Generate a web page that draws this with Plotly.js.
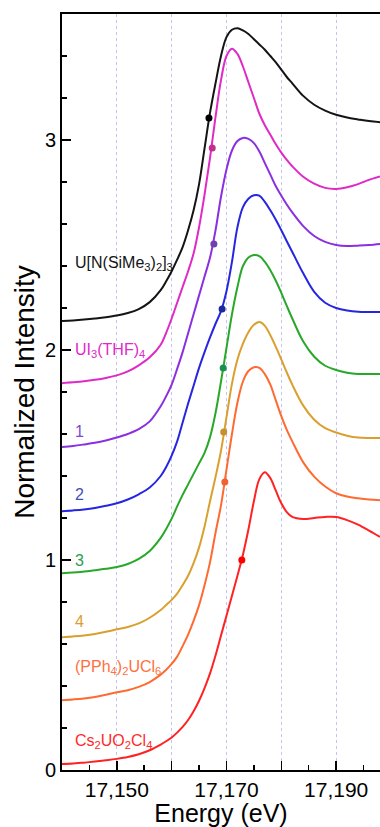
<!DOCTYPE html>
<html>
<head>
<meta charset="utf-8">
<script src="https://cdn.plot.ly/plotly-3.0.1.min.js"></script>
<style>html,body{margin:0;padding:0;background:#fff;}#chart{width:380px;height:827px;}</style>
</head>
<body>
<div id="chart"></div>
<script>
// Energy grid (eV)
const energy = [17140,17142,17144,17146,17148,17150,17152,17154,17156,17158,
  17159,17160,17161,17162,17163,17164,17165,17166,17167,17168,17169,17170,17171,17172,
  17173,17174,17175,17176,17177,17178,17179,17180,17181,17182,
  17184,17186,17188,17190,17192,17194,17196,17198];

// Normalized intensity (with vertical offsets as plotted)
const uNSiMe3 = [2.138,2.141,2.145,2.150,2.156,2.164,2.176,2.195,2.228,2.285,
  2.327,2.375,2.43,2.49,2.57,2.665,2.79,2.96,3.13,3.27,3.40,3.49,3.525,3.532,
  3.522,3.505,3.48,3.455,3.43,3.40,3.37,3.335,3.30,3.27,
  3.21,3.168,3.14,3.12,3.107,3.098,3.09,3.085];
const ui3THF4 = [1.842,1.846,1.851,1.858,1.867,1.879,1.898,1.927,1.965,2.025,
  2.082,2.15,2.225,2.30,2.375,2.46,2.585,2.74,2.915,3.11,3.285,3.40,3.435,3.41,
  3.35,3.275,3.20,3.125,3.07,3.025,2.98,2.94,2.905,2.875,
  2.825,2.792,2.772,2.767,2.775,2.79,2.81,2.826];
const cmpd1 = [1.538,1.543,1.550,1.558,1.569,1.583,1.600,1.623,1.660,1.732,
  1.78,1.835,1.91,1.99,2.08,2.17,2.26,2.35,2.44,2.57,2.73,2.86,2.95,2.995,
  3.01,3.005,2.985,2.945,2.89,2.835,2.78,2.735,2.693,2.655,
  2.59,2.543,2.515,2.50,2.495,2.497,2.50,2.505];
const cmpd2 = [1.232,1.236,1.241,1.248,1.258,1.270,1.288,1.313,1.345,1.400,
  1.443,1.497,1.565,1.655,1.745,1.83,1.915,1.99,2.06,2.125,2.185,2.28,2.42,2.585,
  2.68,2.72,2.737,2.735,2.705,2.665,2.62,2.57,2.518,2.467,
  2.365,2.277,2.225,2.20,2.188,2.182,2.181,2.181];
const cmpd3 = [0.937,0.940,0.945,0.951,0.958,0.967,0.981,1.005,1.043,1.105,
  1.148,1.197,1.255,1.31,1.36,1.41,1.46,1.51,1.585,1.70,1.85,2.01,2.17,2.30,
  2.40,2.44,2.452,2.447,2.42,2.38,2.33,2.272,2.21,2.15,
  2.04,1.968,1.925,1.905,1.892,1.886,1.886,1.886];
const cmpd4 = [0.632,0.636,0.641,0.648,0.658,0.670,0.681,0.698,0.725,0.762,
  0.786,0.81,0.84,0.88,0.925,0.985,1.06,1.16,1.28,1.395,1.52,1.68,1.84,1.955,
  2.03,2.085,2.12,2.133,2.115,2.07,2.015,1.955,1.893,1.835,
  1.735,1.668,1.628,1.607,1.592,1.583,1.581,1.581];
const pph4UCl6 = [0.332,0.336,0.341,0.348,0.358,0.370,0.380,0.396,0.419,0.454,
  0.477,0.505,0.54,0.59,0.645,0.71,0.785,0.88,0.99,1.13,1.26,1.43,1.60,1.75,
  1.85,1.90,1.918,1.915,1.885,1.835,1.76,1.685,1.62,1.565,
  1.465,1.397,1.35,1.318,1.302,1.294,1.288,1.285];
const cs2UO2Cl4 = [0.028,0.031,0.035,0.040,0.046,0.053,0.062,0.075,0.094,0.121,
  0.137,0.155,0.178,0.205,0.238,0.28,0.33,0.39,0.46,0.545,0.64,0.735,0.83,0.925,
  1.025,1.145,1.28,1.385,1.418,1.39,1.33,1.27,1.228,1.205,
  1.195,1.20,1.205,1.205,1.19,1.168,1.14,1.11];

// Edge positions (marked points)
const edgeEnergy = [17166.8,17167.4,17167.7,17169.2,17169.4,17169.5,17169.7,17172.8];
const edgeValue  = [3.105,2.962,2.505,2.195,1.914,1.61,1.371,1.0];

// Labels
const labelText = ['U[N(SiMe<sub>3</sub>)<sub>2</sub>]<sub>3</sub>','UI<sub>3</sub>(THF)<sub>4</sub>','1','2','3','4','(PPh<sub>4</sub>)<sub>2</sub>UCl<sub>6</sub>','Cs<sub>2</sub>UO<sub>2</sub>Cl<sub>4</sub>'];
const labelY = [2.41,2.0,1.61,1.31,1.0,0.705,0.49,0.135];

// Tick labels
const xTickVals = [17150,17160,17170,17180,17190];
const xTickText = ['17,150','','17,170','','17,190'];

const series = [uNSiMe3,ui3THF4,cmpd1,cmpd2,cmpd3,cmpd4,pph4UCl6,cs2UO2Cl4];
const colors = ['#141414','#E02AC6','#8A30E0','#2626E0','#28A828','#D9A030','#FF6A30','#FF2222'];
const dotColors = ['#000000','#C0308E','#7040B0','#1A2A9A','#1A9050','#C8902A','#F06030','#FF0000'];
const labelColors = ['#141414','#E02AC6','#7A4ACD','#3F50B5','#28A050','#D9A030','#FF7040','#FF2A2A'];

const FONT = 'Liberation Sans, Arial, Helvetica, sans-serif';

const traces = series.map((s,i)=>({
  x: energy, y: s, type:'scatter', mode:'lines',
  line:{color:colors[i], width:2, shape:'spline', smoothing:1},
  hoverinfo:'skip'
}));
traces.push({
  x: edgeEnergy, y: edgeValue, type:'scatter', mode:'markers',
  marker:{color:dotColors, size:7},
  hoverinfo:'skip'
});

const annotations = labelText.map((t,i)=>({
  x: 17142, y: labelY[i], xref:'x', yref:'y', text:t, showarrow:false,
  xanchor:'left', yanchor:'middle',
  font:{family:FONT, size:16, color:labelColors[i]}
}));

const layout = {
  width:380, height:827,
  margin:{l:62, r:0, t:14, b:57},
  paper_bgcolor:'#ffffff', plot_bgcolor:'#ffffff',
  showlegend:false,
  font:{family:FONT, color:'#000'},
  annotations: annotations,
  xaxis:{
    range:[17140,17198],
    tickmode:'array', tickvals:xTickVals, ticktext:xTickText,
    ticks:'inside', ticklen:9, tickwidth:1.5, tickcolor:'#000',
    showline:true, linecolor:'#000', linewidth:2, mirror:true,
    showgrid:true, gridcolor:'#C4C4F4', griddash:'dot', gridwidth:1,
    zeroline:false,
    tickfont:{family:FONT, size:21, color:'#000'},
    title:{text:'Energy (eV)', font:{family:FONT, size:25, color:'#000'}, standoff:5},
    minor:{tickmode:'linear', tick0:17140, dtick:5, ticks:'inside', ticklen:5, tickwidth:1.5, tickcolor:'#000', showgrid:false}
  },
  yaxis:{
    range:[0,3.6],
    tickmode:'linear', tick0:0, dtick:1,
    ticks:'inside', ticklen:9, tickwidth:1.5, tickcolor:'#000',
    showline:true, linecolor:'#000', linewidth:2,
    showgrid:false, zeroline:false,
    tickfont:{family:FONT, size:20, color:'#000'},
    title:{text:'Normalized Intensity', font:{family:FONT, size:28, color:'#000'}, standoff:2},
    minor:{tickmode:'linear', tick0:0, dtick:0.2, ticks:'inside', ticklen:5, tickwidth:1.5, tickcolor:'#000', showgrid:false}
  }
};

Plotly.newPlot('chart', traces, layout, {staticPlot:true, displayModeBar:false});
</script>
</body>
</html>
